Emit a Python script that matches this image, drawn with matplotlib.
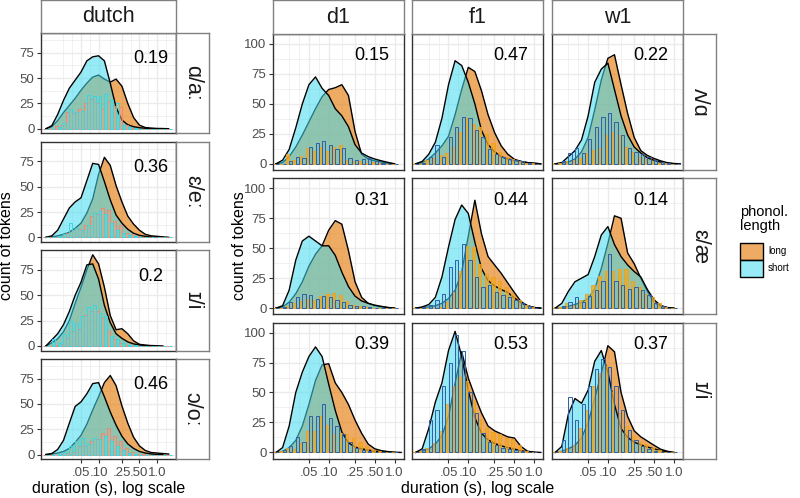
import numpy as np
import matplotlib
matplotlib.use("Agg")
import matplotlib.pyplot as plt
from matplotlib.ticker import FixedLocator, NullFormatter
from matplotlib.colors import to_rgba
from matplotlib.patches import Patch

plt.rcParams["font.family"] = ["Liberation Sans", "DejaVu Sans"]

# log10 of duration (s): grid shared by the density curves and the histogram bins
LOG_DUR = [-1.9, -1.8, -1.7, -1.6, -1.5, -1.4, -1.3, -1.2, -1.1, -1.0, -0.9,
           -0.8, -0.7, -0.6, -0.5, -0.4, -0.3, -0.2, -0.1, 0.0, 0.1, 0.2]

XTICKS = [0.05, 0.10, 0.25, 0.50, 1.0]
XTICK_LABELS = [".05", ".10", ".25", ".50", "1.0"]

# ---- dutch (left plot), one entry per vowel pair ----
DUTCH_VOWELS = ["ɑ/aː", "ɛ/eː", "ɪ/i", "ɔ/oː"]
DUTCH_OVERLAP = ["0.19", "0.36", "0.2", "0.46"]
DUTCH_DENS_LONG = [
    [0, 2, 8, 16, 23, 30, 38, 45, 51, 53, 49, 46, 49, 42, 25, 11, 3.5, 1.2, 0.6, 0.3, 0.2, 0],
    [0, 0.5, 1.5, 3, 5, 9, 14, 24, 38, 62, 79, 71, 51, 35, 21, 13, 7, 3, 1.5, 1, 0.5, 0],
    [0, 3, 7, 14, 25, 42, 58, 75, 90, 81, 58, 30, 16, 17, 12, 5, 1.6, 0.8, 0.4, 0.2, 0, 0],
    [0, 0.5, 1.5, 3, 6, 12, 19, 30, 44, 57, 71, 78, 68, 48, 31, 17, 8.5, 4, 2, 1.5, 1, 0.5],
]
DUTCH_DENS_SHORT = [
    [0, 3, 14, 28, 40, 48, 56, 67, 71, 72, 67, 45, 21, 8.5, 4, 2, 1, 0.5, 0.2, 0, 0, 0],
    [0, 1.5, 7, 18, 29, 35, 39, 56, 73, 72, 55, 37, 22, 14, 8, 4, 2, 1, 0.3, 0, 0, 0],
    [0, 6, 12, 21, 34, 50, 63, 80, 81, 66, 40, 23, 12, 7.5, 4, 2, 1, 0.5, 0, 0, 0, 0],
    [0, 1, 5, 14, 31, 47.5, 52, 60, 70, 71, 57, 42, 29, 18, 10.5, 6, 3, 1.5, 0.6, 0.2, 0, 0],
]
DUTCH_HIST_LONG = [
    [0, 0, 2.3, 3.3, 17, 15.5, 19, 25, 29, 25, 19, 27, 22, 21, 4, 1, 0, 0, 0, 0, 0, 0],
    [0, 0, 0, 1, 4, 7.6, 8, 12.5, 21, 23, 29, 27, 16, 12.5, 4, 3, 1, 0, 0, 0, 0, 0],
    [0, 0, 1, 2, 8, 15, 17, 31, 34.5, 34.5, 28, 15, 6.6, 3, 1, 0, 0, 0, 0, 0, 0, 0],
    [0, 0, 0, 1, 2, 3, 8, 8, 13, 15, 21, 26, 18, 13, 6.6, 3, 1, 0.5, 0, 0, 0, 0],
]
DUTCH_HIST_SHORT = [
    [0, 0, 2, 6, 19, 17, 18, 33.5, 32, 32, 34.5, 28.6, 25, 4, 2, 0.5, 0, 0, 0, 0, 0, 0],
    [0, 0, 1, 3, 14, 9, 7.6, 12.5, 24, 26, 23, 14, 7.6, 4, 2, 1, 0, 0, 0, 0, 0, 0],
    [0, 6.6, 3, 12, 24.7, 23, 30, 38, 40, 33, 29.6, 10, 6.6, 3, 1, 0.5, 0, 0, 0, 0, 0, 0],
    [0, 0, 1, 3, 8, 13, 16, 10, 16, 15, 18, 13, 8, 4, 2, 1, 0, 0, 0, 0, 0, 0],
]

# ---- english speakers (right plot), rows = vowel pairs ----
SPEAKERS = ["d1", "f1", "w1"]
ENG_VOWELS = ["ʌ/ɑ", "ɛ/æ", "ɪ/i"]
ENG_OVERLAP = {
    "d1": ["0.15", "0.31", "0.39"],
    "f1": ["0.47", "0.44", "0.53"],
    "w1": ["0.22", "0.14", "0.37"],
}
ENG_DENS_LONG = {
    "d1": [
        [0, 0, 1, 6, 14, 24, 35, 46, 56, 62, 63.5, 66, 57, 27, 8, 4, 2.5, 1.5, 0.5, 0, 0, 0],
        [0, 0, 1, 5, 12, 22, 35, 45, 52, 65, 73, 70, 48, 22, 9, 4, 2, 1, 0.5, 0, 0, 0],
        [0, 0, 1, 4, 10, 22, 40, 60, 73, 74, 58, 50, 40, 27, 16, 7, 3, 1.5, 0.7, 0.2, 0, 0],
    ],
    "f1": [
        [0, 0, 1, 4, 9, 15, 23, 41, 62, 80.5, 77, 61, 41, 26, 15, 8, 3.8, 2, 1, 0.5, 0, 0],
        [0, 0, 0.5, 1, 2, 4, 8, 15, 30, 60, 90, 62, 43, 36, 29, 21, 13, 5.5, 2, 0.5, 0, 0],
        [0, 0, 1, 3, 7, 14, 30, 58, 84, 62, 47, 33, 22, 18, 15.5, 13, 12, 5, 1, 0.3, 0, 0],
    ],
    "w1": [
        [0, 0, 0.5, 1.5, 4, 10, 22, 45, 70, 88, 91, 66, 42, 22, 11, 7, 4.5, 2.5, 1, 0.3, 0, 0],
        [0, 0, 0.5, 1.5, 3, 5, 8, 16, 33, 54, 77, 75, 46, 37, 25, 14, 5, 1.5, 0.5, 0, 0, 0],
        [0, 0, 1, 3, 6, 12, 25, 45, 66, 89, 84, 50, 30, 18, 13, 9.5, 6, 2.7, 1, 0, 0, 0],
    ],
}
ENG_DENS_SHORT = {
    "d1": [
        [0, 0, 3, 12, 30, 50, 66, 72.5, 63, 57, 46, 40, 31, 16, 9, 6, 4, 2.5, 1.2, 0, 0, 0],
        [0, 0, 2, 15, 40, 56, 60, 56, 52, 52, 44, 30, 18, 10, 6, 4, 2.5, 1.5, 0.5, 0, 0, 0],
        [0, 0, 4, 22, 50, 67, 80, 88, 80, 57, 35, 17, 8, 4.5, 3, 2, 1, 0.5, 0.2, 0, 0, 0],
    ],
    "f1": [
        [0, 0, 2, 8, 18, 38, 66, 86, 82, 68, 50, 28, 16, 10, 6, 4, 3, 2, 1, 0.5, 0, 0],
        [0, 0, 1, 3, 9, 26, 51, 74, 86, 79, 55, 33, 23, 18.5, 15.5, 13, 8.5, 4.5, 2, 0.5, 0, 0],
        [0, 0, 3, 20, 42, 58, 85, 101, 80, 52, 29, 16, 10.5, 7.5, 5.5, 4, 2.8, 1.4, 0.5, 0, 0, 0],
    ],
    "w1": [
        [0, 0, 1, 6, 11, 20, 40, 68, 79, 84, 62, 40, 24, 14, 9, 5, 3, 1.5, 0.5, 0, 0, 0],
        [0, 0, 4, 14, 22, 25, 28, 43, 61, 68, 53, 43, 36, 30.5, 26, 15.5, 7, 2.3, 0.5, 0, 0, 0],
        [0, 0, 5, 32, 45, 41, 52, 76, 85, 67, 40, 20, 12.5, 8.5, 6.3, 4.5, 3, 1.5, 0.5, 0, 0, 0],
    ],
}
ENG_HIST_LONG = {
    "d1": [
        [0, 0, 0, 8.3, 3.3, 6.6, 13, 11, 13.8, 11, 14.3, 15.7, 3.3, 2, 2.7, 1, 1.5, 0.5, 0, 0, 0, 0],
        [0, 0, 0, 2, 4, 6, 8, 7, 10, 12, 13, 11, 6, 3, 2, 1, 0.5, 0, 0, 0, 0, 0],
        [0, 0, 1, 4, 2.5, 8, 17.6, 17.6, 30, 23, 15, 16, 15, 12, 9, 5, 2, 1, 0, 0, 0, 0],
    ],
    "f1": [
        [0, 0, 0, 3.3, 4.7, 7.4, 8.8, 14.3, 26.7, 38.6, 33, 31, 25, 17, 10, 6, 3.9, 2, 1, 0.5, 0, 0],
        [0, 0, 0, 0, 0.5, 1, 5.2, 13.5, 31, 52, 50.7, 37, 28.6, 26, 23, 17.6, 12, 7, 3, 1, 0, 0],
        [0, 0, 1, 4, 8, 17.6, 40, 55, 63, 60, 44, 28, 20, 17, 15, 12, 11, 6, 1, 0, 0, 0],
    ],
    "w1": [
        [0, 0, 1, 2, 3.3, 4.7, 8.8, 11.6, 13, 24, 26.5, 24, 14.3, 10, 6, 4, 2, 1, 0.5, 0, 0, 0],
        [0, 0, 1, 3.9, 2.5, 6.6, 12, 19, 27, 31, 31, 33, 33, 23, 17.6, 12, 9.4, 3.9, 1, 0, 0, 0],
        [0, 0, 1, 4, 6.6, 20, 35.5, 55, 66, 72, 50, 33, 22, 13.5, 9, 7.4, 4, 2, 0.5, 0, 0, 0],
    ],
}
ENG_HIST_SHORT = {
    "d1": [
        [0, 0, 0, 2, 6, 5, 14, 17, 19, 15.5, 12, 13, 5, 3.3, 4, 4.7, 2.7, 1, 0, 0, 0, 0],
        [0, 0, 1, 5, 9, 12, 11, 8, 10, 9, 7, 5, 3, 2, 1.5, 1, 0.5, 0, 0, 0, 0, 0],
        [0, 0, 2, 5, 13, 9, 30, 30, 40, 29, 22, 15, 9, 4, 2, 1, 0.5, 0, 0, 0, 0, 0],
    ],
    "f1": [
        [0, 0, 1, 6, 15.7, 6, 22, 31, 39, 38, 28, 22, 12, 8, 6, 4, 3, 2, 1, 0, 0, 0],
        [0, 0, 1, 3, 6.6, 12, 34, 40, 53.4, 40, 26, 17.6, 19, 13.5, 10.7, 9.4, 6.6, 4, 2, 0.5, 0, 0],
        [0, 0, 3, 27, 35, 55, 75, 98, 85, 50, 33, 16, 9, 6, 4, 3, 2, 1, 0, 0, 0, 0],
    ],
    "w1": [
        [0, 0, 2, 8.8, 13, 8.8, 21, 31, 39, 42, 35, 24, 13, 10, 8.3, 6, 3.3, 1.5, 0.5, 0, 0, 0],
        [0, 0, 2, 5, 9.4, 5.2, 10, 15, 23, 45, 23, 19, 16, 17.6, 15, 10.7, 3.9, 1.5, 0.5, 0, 0, 0],
        [0, 0, 10, 46.6, 27, 40, 55, 70, 78, 71, 55, 35.5, 19, 10.7, 5, 3, 1.5, 0.5, 0, 0, 0, 0],
    ],
}

# colours
LONG_FILL, LONG_ALPHA = "#E67E10", 0.65
SHORT_FILL, SHORT_ALPHA = "#40DCF0", 0.55
DUTCH_BARS = (dict(fc=to_rgba("#F4A07E", 0.55), ec="#F08470", lw=0.6),
              dict(fc="none", ec="#38D6E6", lw=0.7))
ENG_BARS = (dict(fc=to_rgba("#F2A81D", 0.75), ec="#F0A020", lw=0.6),
            dict(fc=to_rgba("#2E5FA8", 0.06), ec="#2E5FA8", lw=0.7))

W, H = 800, 498
fig = plt.figure(figsize=(W / 100, H / 100), dpi=100)


def px_rect(x0, y0, x1, y1):
    return [x0 / W, 1 - y1 / H, (x1 - x0) / W, (y1 - y0) / H]


def draw_panel(ax, dens_long, dens_short, hist_long, hist_short, bars, span):
    lg = np.asarray(LOG_DUR)
    x = 10 ** lg
    z = 2.0
    for dens, col, alpha in ((dens_long, LONG_FILL, LONG_ALPHA),
                             (dens_short, SHORT_FILL, SHORT_ALPHA)):
        d = np.asarray(dens, float)
        nz = np.flatnonzero(d > 0)
        sl = slice(max(nz[0] - 1, 0), min(nz[-1] + 2, len(d)))
        ax.fill_between(x[sl], d[sl], color=col, alpha=alpha, lw=0, zorder=z)
        ax.plot(x[sl], d[sl], color="black", lw=1.0, zorder=z + 0.1)
        z += 0.2
    # dodged histogram: long on the left half of each bin, short on the right
    keep = (lg >= span[0] - 1e-9) & (lg <= span[1] + 1e-9)
    lo, mid, hi = 10 ** (lg - 0.05), x, 10 ** (lg + 0.05)
    ax.bar(lo[keep], np.asarray(hist_long)[keep], width=(mid - lo)[keep],
           align="edge", zorder=2.45, **bars[0])
    ax.bar(mid[keep], np.asarray(hist_short)[keep], width=(hi - mid)[keep],
           align="edge", zorder=2.45, **bars[1])


def style_axes(ax, xlim_log, ylim, yticks, show_x, show_y):
    ax.set_xscale("log")
    ax.set_xlim(10 ** xlim_log[0], 10 ** xlim_log[1])
    ax.set_ylim(*ylim)
    ax.set_xticks(XTICKS, XTICK_LABELS)
    ax.xaxis.set_minor_locator(FixedLocator([0.025, 0.0354, 0.0707, 0.158, 0.354, 0.707, 1.414, 2.0]))
    ax.xaxis.set_minor_formatter(NullFormatter())
    ax.set_yticks(yticks)
    ax.yaxis.set_minor_locator(FixedLocator([12.5, 37.5, 62.5, 87.5]))
    ax.set_axisbelow(True)
    ax.grid(which="major", color="#EBEBEB", lw=1.0)
    ax.grid(which="minor", color="#EBEBEB", lw=0.5)
    ax.tick_params(which="minor", length=0)
    ax.tick_params(which="major", length=3, width=0.8, color="#333333",
                   labelsize=9.5, labelcolor="#4D4D4D", pad=1.5)
    ax.tick_params(axis="x", which="major", pad=3)
    if not show_x:
        ax.tick_params(axis="x", which="major", length=0, labelbottom=False)
    if not show_y:
        ax.tick_params(axis="y", which="major", length=0, labelleft=False)
    for sp in ax.spines.values():
        sp.set_color("#333333")
        sp.set_linewidth(1.0)


def strip(rect, label, rotation=0):
    s = fig.add_axes(rect)
    s.set_xticks([])
    s.set_yticks([])
    for sp in s.spines.values():
        sp.set_color("#808080")
        sp.set_linewidth(1.0)
    s.text(0.5, 0.5, label, ha="center", va="center", rotation=rotation,
           fontsize=15.5, color="#1A1A1A", transform=s.transAxes)


# dutch plot
for i, vowel in enumerate(DUTCH_VOWELS):
    top = 33 + i * 108.6
    ax = fig.add_axes(px_rect(40.7, top, 175.7, top + 100.3))
    draw_panel(ax, DUTCH_DENS_LONG[i], DUTCH_DENS_SHORT[i],
               DUTCH_HIST_LONG[i], DUTCH_HIST_SHORT[i], DUTCH_BARS, (-1.9, 0.2))
    style_axes(ax, (-1.99, 0.32), (-4.5, 94.5), [0, 25, 50, 75],
               i == len(DUTCH_VOWELS) - 1, True)
    ax.text(0.776, 69, DUTCH_OVERLAP[i], ha="center", va="center", fontsize=13)
    strip(px_rect(175.7, top, 209, top + 100.3), vowel, -90)
strip(px_rect(40.7, 0.5, 175.7, 33), "dutch")

# english speakers plot
for i, vowel in enumerate(ENG_VOWELS):
    top = 34 + i * 144.3
    for j, spk in enumerate(SPEAKERS):
        x0 = 272.7 + j * 139.6
        ax = fig.add_axes(px_rect(x0, top, x0 + 130.8, top + 136))
        draw_panel(ax, ENG_DENS_LONG[spk][i], ENG_DENS_SHORT[spk][i],
                   ENG_HIST_LONG[spk][i], ENG_HIST_SHORT[spk][i], ENG_BARS, (-1.8, 0.0))
        style_axes(ax, (-1.85, 0.136), (-5.15, 108.3), [0, 25, 50, 75, 100],
                   i == len(ENG_VOWELS) - 1, j == 0)
        ax.text(0.444, 90, ENG_OVERLAP[spk][i], ha="center", va="center", fontsize=13)
        if i == 0:
            strip(px_rect(x0, 0.5, x0 + 130.8, 34), spk)
    strip(px_rect(682.8, top, 716, top + 136), vowel, -90)

# axis titles
fig.text(108.2 / W, 1 - 488 / H, "duration (s), log scale", ha="center", va="center", fontsize=11.5)
fig.text(477.8 / W, 1 - 488 / H, "duration (s), log scale", ha="center", va="center", fontsize=11.5)
fig.text(7 / W, 1 - 246 / H, "count of tokens", rotation=90, ha="center", va="center", fontsize=11.5)
fig.text(239 / W, 1 - 246 / H, "count of tokens", rotation=90, ha="center", va="center", fontsize=11.5)

# legend
fig.text(740 / W, 1 - 205 / H, "phonol.\nlength", ha="left", va="top", fontsize=10.5, linespacing=1.0)
handles = [Patch(fc=to_rgba(LONG_FILL, LONG_ALPHA), ec="black", lw=1.0, label="long"),
           Patch(fc=to_rgba(SHORT_FILL, SHORT_ALPHA), ec="black", lw=1.0, label="short")]
fig.legend(handles=handles, loc="upper left", bbox_to_anchor=(740 / W, 1 - 243 / H),
           frameon=False, fontsize=7, handlelength=2.4, handleheight=2.3,
           labelspacing=0, handletextpad=0.5, borderpad=0, borderaxespad=0)

fig.savefig("out.png", dpi=100)
